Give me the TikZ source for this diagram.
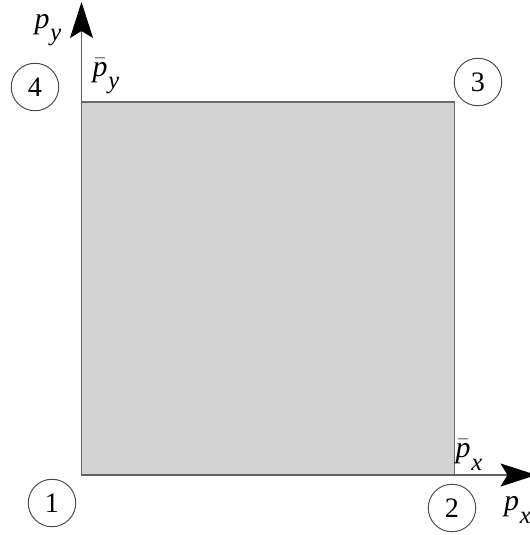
\documentclass[tikz,border=0pt]{standalone}
\usepackage{fontspec}
\setmainfont{Liberation Serif}
\usetikzlibrary{arrows.meta}
\definecolor{AxisGray}{HTML}{606060}
\definecolor{PanelFill}{HTML}{D3D3D3}
\definecolor{PanelEdge}{HTML}{6A6A6A}
\definecolor{RingGray}{HTML}{4A4A4A}
\newcommand{\plabel}[2]{#1\kern0.5pt\raisebox{-0.42em}{\fontsize{14}{14}\selectfont\textit{#2}}}

\tikzset{
  corner/.style={draw=RingGray, line width=0.55pt, circle, minimum size=0.95cm, inner sep=0pt, font=\fontsize{16}{18}\selectfont},
  axislabel/.style={inner sep=0pt, font=\fontsize{17}{19}\selectfont},
  axisline/.style={draw=AxisGray, line width=0.7pt, -{Stealth[length=7.2mm,width=4.6mm,inset=1.4mm,color=black]}}
}

\begin{document}
\begin{tikzpicture}
    \useasboundingbox (-1.63,-1.2) rectangle (8.97,9.5);
    \clip (-1.63,-1.2) rectangle (8.97,9.5);
    % admissible region
    \coordinate (O) at (0,0);
    \coordinate (C) at (7.46,7.46);
    \filldraw[fill=PanelFill, draw=PanelEdge, line width=0.8pt] (O) rectangle (C);
    % axes
    \coordinate (xend) at (9.1,0);
    \coordinate (yend) at (0,9.46);
    \draw[axisline] (O) -- (xend);
    \draw[axisline] (O) -- (yend);
    \node[axislabel] (px) at (8.72,-0.7) {\plabel{\textit{p}}{x}};
    \node[axislabel] (py) at (-0.67,8.9) {\plabel{\textit{p}}{y}};
    \node[axislabel] (pxbar) at (7.75,0.4) {\plabel{$\bar{\mathit{p}}$}{x}};
    \node[axislabel] (pybar) at (0.49,7.98) {\plabel{$\bar{\mathit{p}}$}{y}};
    % corner numbers
    \node[corner] (c1) at (-0.59,-0.56) {1};
    \node[corner] (c2) at (7.41,-0.66) {2};
    \node[corner] (c3) at (7.93,7.86) {3};
    \node[corner] (c4) at (-0.93,7.76) {4};
\end{tikzpicture}
\end{document}
